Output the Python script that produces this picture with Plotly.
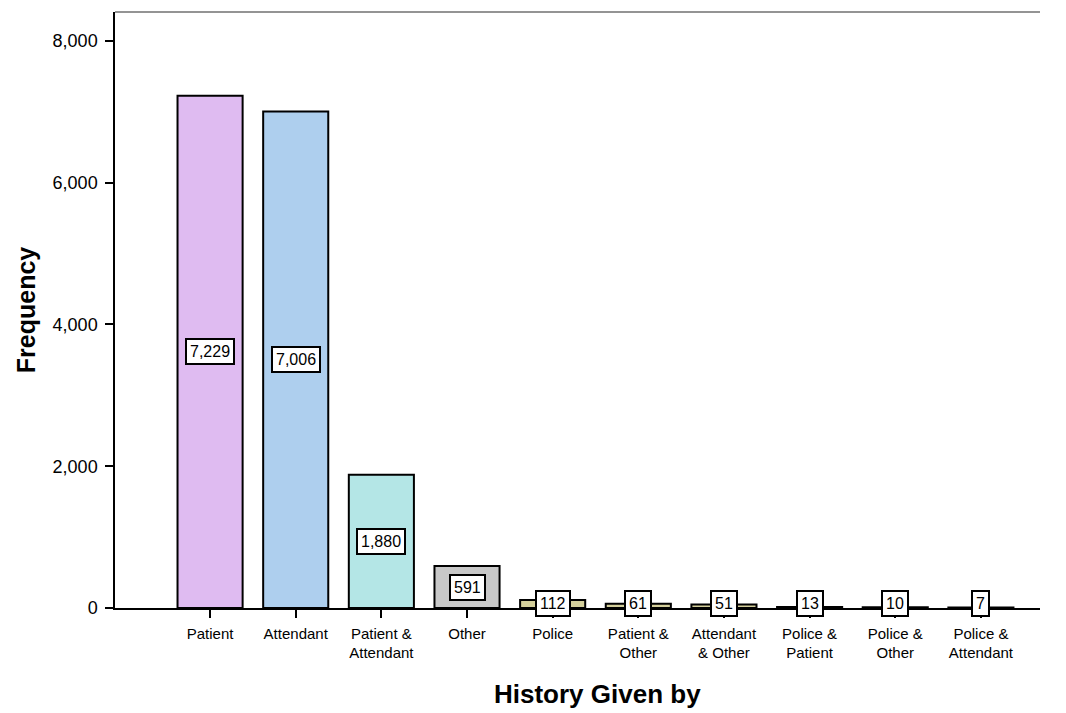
import plotly.graph_objects as go

# categories and counts
categories = ["Patient", "Attendant", "Patient &<br>Attendant", "Other", "Police",
              "Patient &<br>Other", "Attendant<br>& Other", "Police &<br>Patient",
              "Police &<br>Other", "Police &<br>Attendant"]
counts = [7229, 7006, 1880, 591, 112, 61, 51, 13, 10, 7]
bar_colors = ["#dfbbf1", "#aecfee", "#b4e6e6", "#c8c8c8", "#d4cf9b",
              "#d4cf9b", "#d4cf9b", "#d4cf9b", "#d4cf9b", "#d4cf9b"]
y_ticks = [0, 2000, 4000, 6000, 8000]

xs = list(range(len(categories)))

fig = go.Figure()
fig.add_trace(go.Bar(
    x=xs, y=counts, width=0.76,
    marker=dict(color=bar_colors, line=dict(color="black", width=2)),
    hoverinfo="x+y", showlegend=False,
))

# value labels in boxes at mid-height of each bar
for x, v in zip(xs, counts):
    fig.add_annotation(
        x=x, y=max(v / 2, 70), text=f"{v:,}", showarrow=False,
        font=dict(size=16, color="black", family="Liberation Sans, Arial"),
        bgcolor="white", bordercolor="black", borderwidth=2, borderpad=3,
    )

# x axis title sits a bit right of centre in the original
fig.add_annotation(
    xref="paper", yref="paper", x=0.522, y=-0.145, yanchor="middle",
    text="<b>History Given by</b>", showarrow=False, font=dict(size=26, color="black"),
)

# grey top border
fig.add_shape(type="line", xref="paper", yref="paper", x0=0, x1=1, y0=1, y1=1,
              line=dict(color="#707070", width=1.5))

# page body has an 8px margin, so the figure is shrunk to fit the window
fig.update_layout(
    width=1058, height=705,
    margin=dict(l=107, r=26, t=4, b=105),
    plot_bgcolor="white", paper_bgcolor="white",
    font=dict(family="Liberation Sans, Arial", color="black"),
    xaxis=dict(
        range=[-1.11, 9.69], tickvals=xs, ticktext=categories,
        ticks="outside", ticklen=8, tickwidth=2, tickcolor="black",
        showline=True, linecolor="black", linewidth=1.5, ticklabelstandoff=3,
        showgrid=False, zeroline=False, tickfont=dict(size=15),
    ),
    yaxis=dict(
        range=[0, 8409], tickvals=y_ticks, tickformat=",",
        ticks="outside", ticklen=8, tickwidth=2, tickcolor="black",
        showline=True, linecolor="black", linewidth=1.5, ticklabelstandoff=4,
        showgrid=False, zeroline=False, tickfont=dict(size=18),
        title=dict(text="<b>Frequency</b>", font=dict(size=25), standoff=10),
    ),
)

fig.write_html("out.html")
